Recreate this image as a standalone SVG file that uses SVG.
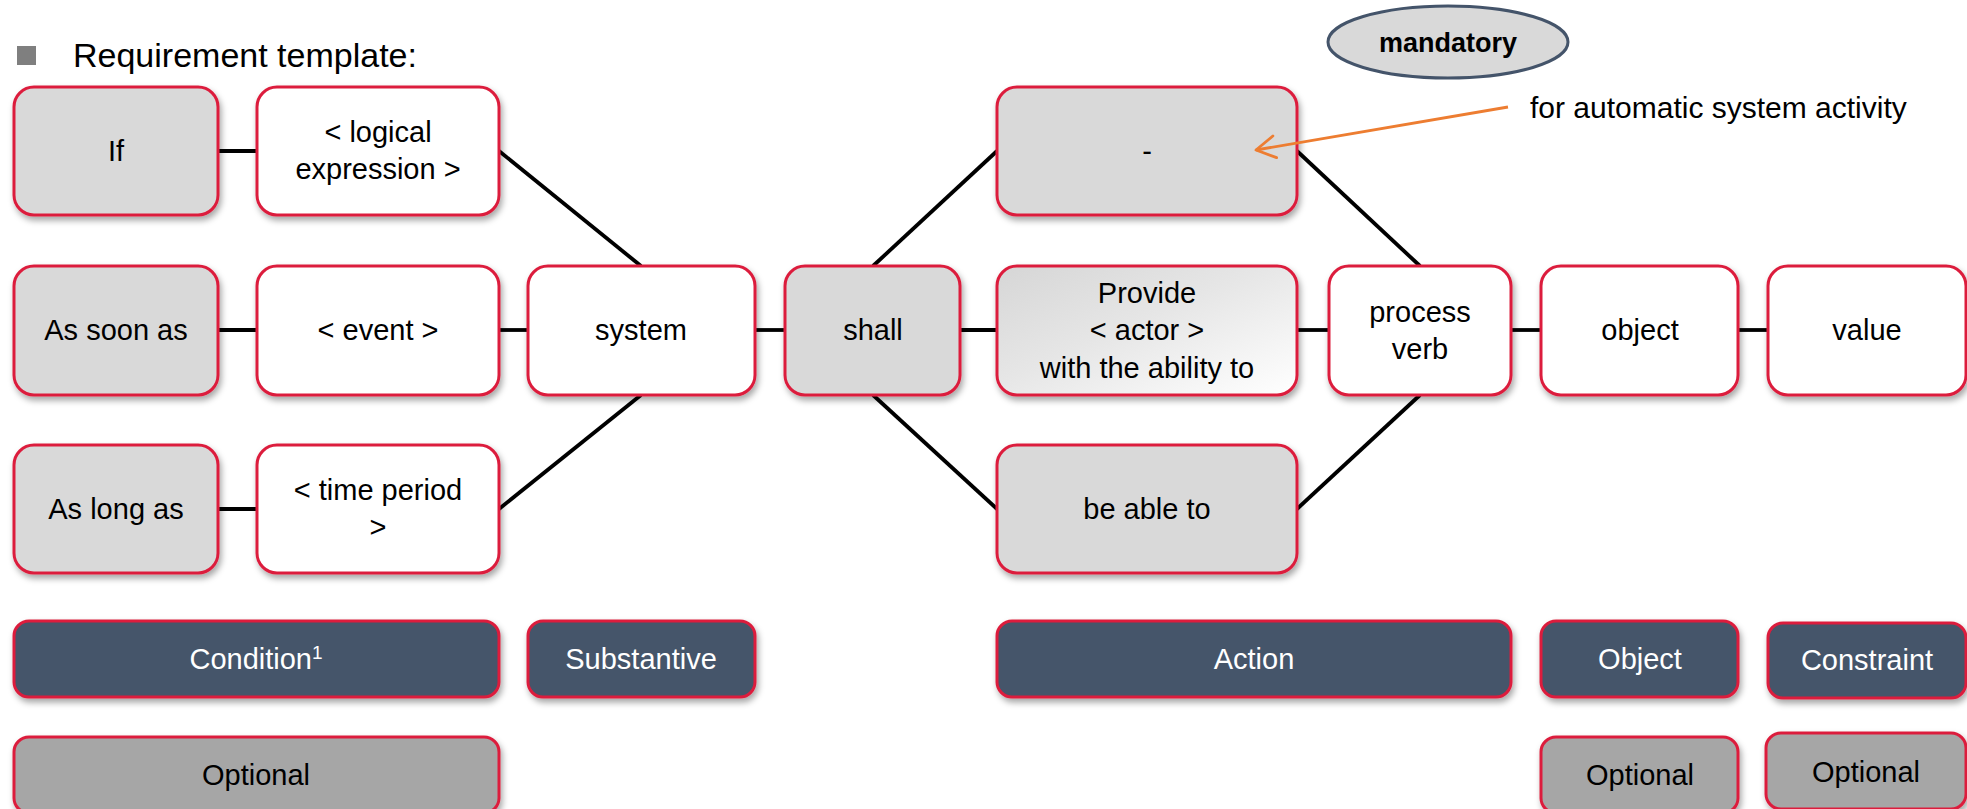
<svg xmlns="http://www.w3.org/2000/svg" width="1967" height="809" viewBox="0 0 1967 809">
  <defs>
    <filter id="sh" x="-10%" y="-10%" width="125%" height="135%">
      <feDropShadow dx="2" dy="4" stdDeviation="3" flood-color="#000" flood-opacity="0.35"/>
    </filter>
    <linearGradient id="provideFill" x1="0" y1="0" x2="1" y2="1">
      <stop offset="0" stop-color="#D6D6D6"/>
      <stop offset="0.45" stop-color="#E6E6E6"/>
      <stop offset="1" stop-color="#FFFFFF"/>
    </linearGradient>
    <marker id="openArrow" markerUnits="userSpaceOnUse" markerWidth="40" markerHeight="40" viewBox="-25 -20 40 40" refX="0" refY="0" orient="auto">
      <path d="M-19,-11 L0,0 L-19,11" fill="none" stroke="#ED7D31" stroke-width="2.8" stroke-linecap="round" stroke-linejoin="round"/>
    </marker>
    <style>
      .box { stroke:#DC1E3C; stroke-width:3; filter:url(#sh); }
      .light { fill:#D9D9D9; }
      .white { fill:#FFFFFF; }
      .dark { fill:#44546A; }
      .opt { fill:#A6A6A6; }
      .t { font-family:"Liberation Sans", Arial, sans-serif; font-size:29px; text-anchor:middle; fill:#000; }
      .tw { fill:#FFFFFF; }
      .conn { stroke:#000; stroke-width:3.8; fill:none; }
    </style>
  </defs>

  <!-- heading -->
  <g id="heading">
    <rect x="17" y="46" width="19" height="19" fill="#7F7F7F"/>
    <text x="73" y="67" font-family="'Liberation Sans', Arial, sans-serif" font-size="34" fill="#000">Requirement template:</text>
  </g>

  <!-- legend marker -->
  <g id="mandatory">
    <ellipse cx="1448" cy="42" rx="120" ry="36" fill="#D9D9D9" stroke="#44546A" stroke-width="3"/>
    <text x="1448" y="52" font-family="'Liberation Sans', Arial, sans-serif" font-size="27" font-weight="bold" text-anchor="middle" fill="#000">mandatory</text>
  </g>

  <!-- connectors -->
  <g id="connectors">
    <line class="conn" x1="218" y1="151" x2="257" y2="151"/>
    <line class="conn" x1="218" y1="330" x2="257" y2="330"/>
    <line class="conn" x1="218" y1="509" x2="257" y2="509"/>
    <line class="conn" x1="499" y1="151" x2="641" y2="266"/>
    <line class="conn" x1="499" y1="330" x2="528" y2="330"/>
    <line class="conn" x1="499" y1="509" x2="641" y2="395"/>
    <line class="conn" x1="755" y1="330" x2="785" y2="330"/>
    <line class="conn" x1="873" y1="266" x2="997" y2="151"/>
    <line class="conn" x1="960" y1="330" x2="997" y2="330"/>
    <line class="conn" x1="873" y1="395" x2="997" y2="509"/>
    <line class="conn" x1="1297" y1="151" x2="1420" y2="266"/>
    <line class="conn" x1="1297" y1="330" x2="1329" y2="330"/>
    <line class="conn" x1="1297" y1="509" x2="1420" y2="395"/>
    <line class="conn" x1="1511" y1="330" x2="1541" y2="330"/>
    <line class="conn" x1="1738" y1="330" x2="1768" y2="330"/>
  </g>

  <!-- condition column -->
  <g id="if">
    <rect class="box light" x="14" y="87" width="204" height="128" rx="20"/>
    <text class="t" x="116" y="161">If</text>
  </g>
  <g id="logical-expression">
    <rect class="box white" x="257" y="87" width="242" height="128" rx="20"/>
    <text class="t" x="378" y="142">&lt; logical</text>
    <text class="t" x="378" y="179">expression &gt;</text>
  </g>
  <g id="as-soon-as">
    <rect class="box light" x="14" y="266" width="204" height="129" rx="20"/>
    <text class="t" x="116" y="340">As soon as</text>
  </g>
  <g id="event">
    <rect class="box white" x="257" y="266" width="242" height="129" rx="20"/>
    <text class="t" x="378" y="340">&lt; event &gt;</text>
  </g>
  <g id="as-long-as">
    <rect class="box light" x="14" y="445" width="204" height="128" rx="20"/>
    <text class="t" x="116" y="519">As long as</text>
  </g>
  <g id="time-period">
    <rect class="box white" x="257" y="445" width="242" height="128" rx="20"/>
    <text class="t" x="378" y="500">&lt; time period</text>
    <text class="t" x="378" y="537">&gt;</text>
  </g>

  <!-- subject and modal -->
  <g id="system">
    <rect class="box white" x="528" y="266" width="227" height="129" rx="20"/>
    <text class="t" x="641" y="340">system</text>
  </g>
  <g id="shall">
    <rect class="box light" x="785" y="266" width="175" height="129" rx="20"/>
    <text class="t" x="873" y="340">shall</text>
  </g>

  <!-- action column -->
  <g id="dash">
    <rect class="box light" x="997" y="87" width="300" height="128" rx="20"/>
    <text class="t" x="1147" y="161">-</text>
  </g>
  <g id="provide">
    <rect class="box" fill="url(#provideFill)" x="997" y="266" width="300" height="129" rx="20"/>
    <text class="t" x="1147" y="303">Provide</text>
    <text class="t" x="1147" y="340">&lt; actor &gt;</text>
    <text class="t" x="1147" y="378">with the ability to</text>
  </g>
  <g id="be-able-to">
    <rect class="box light" x="997" y="445" width="300" height="128" rx="20"/>
    <text class="t" x="1147" y="519">be able to</text>
  </g>
  <g id="process-verb">
    <rect class="box white" x="1329" y="266" width="182" height="129" rx="20"/>
    <text class="t" x="1420" y="322">process</text>
    <text class="t" x="1420" y="359">verb</text>
  </g>
  <g id="object">
    <rect class="box white" x="1541" y="266" width="197" height="129" rx="20"/>
    <text class="t" x="1640" y="340">object</text>
  </g>
  <g id="value">
    <rect class="box white" x="1768" y="266" width="198" height="129" rx="20"/>
    <text class="t" x="1867" y="340">value</text>
  </g>

  <!-- category bars -->
  <g id="cat-condition">
    <rect class="box dark" x="14" y="621" width="485" height="76" rx="15"/>
    <text class="t tw" x="256" y="669">Condition<tspan font-size="19" dy="-10">1</tspan></text>
  </g>
  <g id="cat-substantive">
    <rect class="box dark" x="528" y="621" width="227" height="76" rx="15"/>
    <text class="t tw" x="641" y="669">Substantive</text>
  </g>
  <g id="cat-action">
    <rect class="box dark" x="997" y="621" width="514" height="76" rx="15"/>
    <text class="t tw" x="1254" y="669">Action</text>
  </g>
  <g id="cat-object">
    <rect class="box dark" x="1541" y="621" width="197" height="76" rx="15"/>
    <text class="t tw" x="1640" y="669">Object</text>
  </g>
  <g id="cat-constraint">
    <rect class="box dark" x="1768" y="623" width="198" height="75" rx="15"/>
    <text class="t tw" x="1867" y="670">Constraint</text>
  </g>

  <!-- optional markers -->
  <g id="opt-condition">
    <rect class="box opt" x="14" y="737" width="485" height="76" rx="15"/>
    <text class="t" x="256" y="785">Optional</text>
  </g>
  <g id="opt-object">
    <rect class="box opt" x="1541" y="737" width="197" height="76" rx="15"/>
    <text class="t" x="1640" y="785">Optional</text>
  </g>
  <g id="opt-constraint">
    <rect class="box opt" x="1766" y="733" width="200" height="76" rx="15"/>
    <text class="t" x="1866" y="782">Optional</text>
  </g>

  <!-- annotation -->
  <g id="note">
    <line x1="1508" y1="107" x2="1256" y2="150" stroke="#ED7D31" stroke-width="2.8" marker-end="url(#openArrow)"/>
    <text x="1530" y="118" font-family="'Liberation Sans', Arial, sans-serif" font-size="30" fill="#000">for automatic system activity</text>
  </g>
</svg>
